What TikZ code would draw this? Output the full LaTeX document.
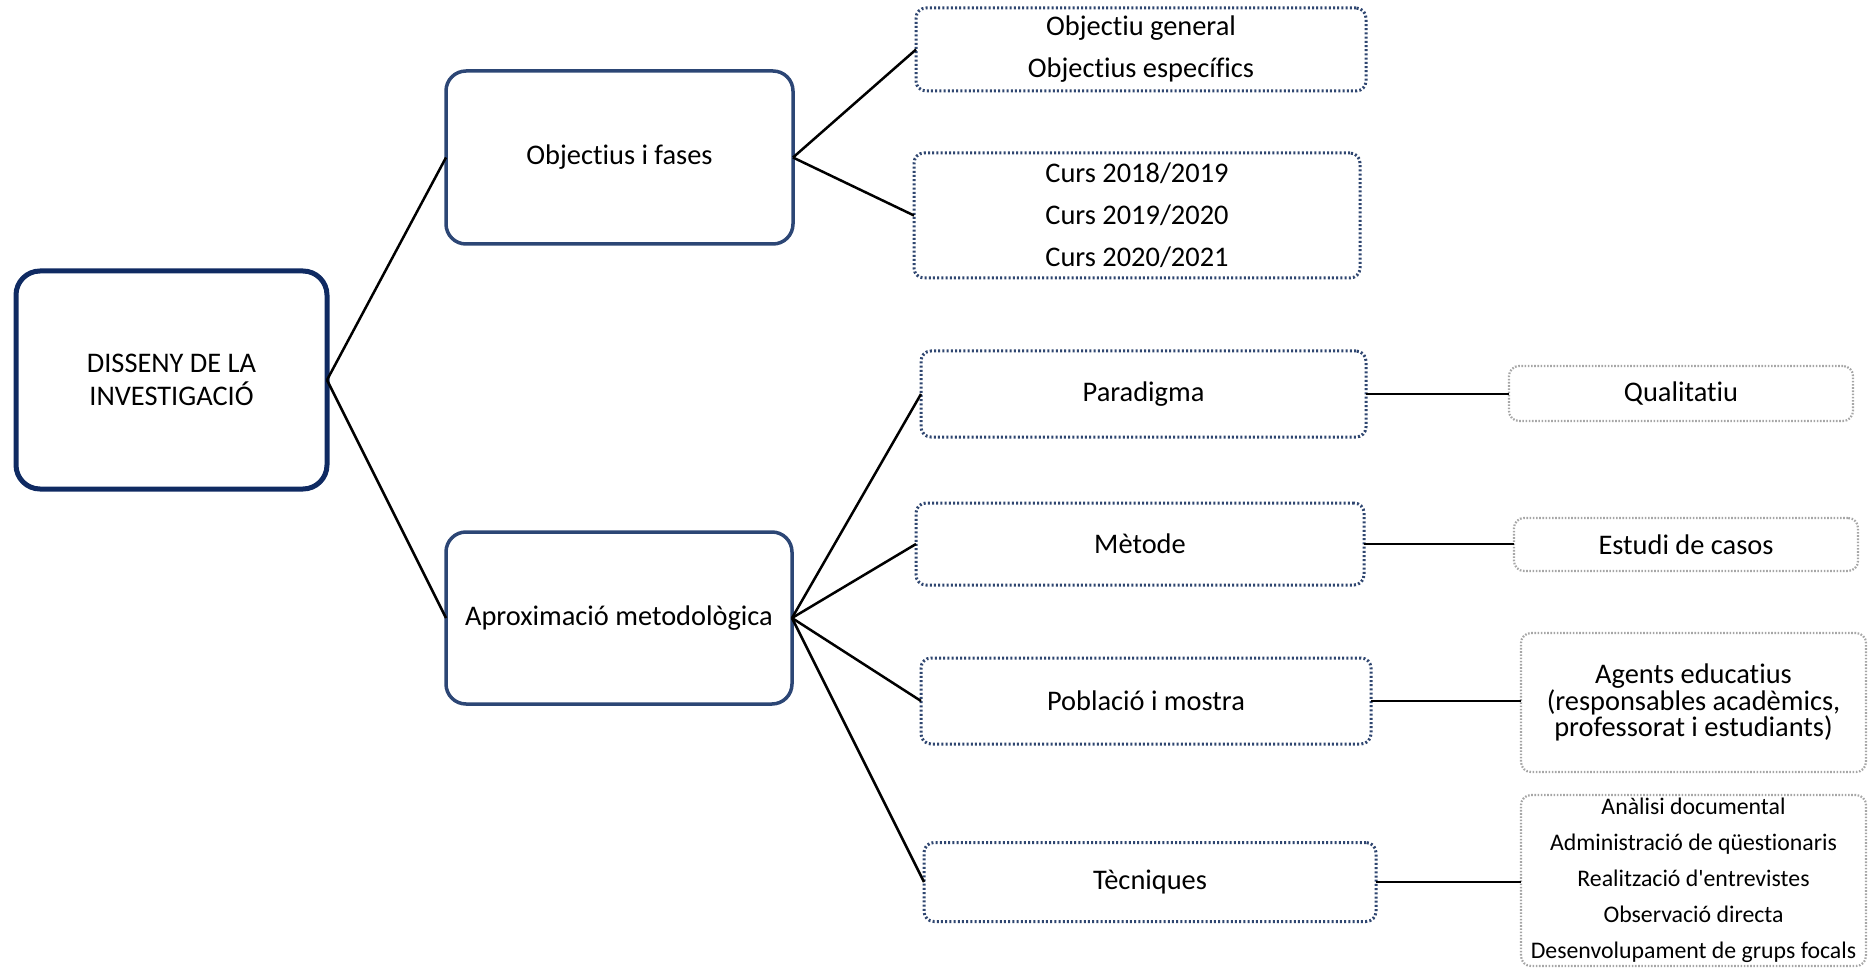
\documentclass[tikz,border=0pt]{standalone}
\usepackage{fontspec}
\setmainfont{Carlito}[Ligatures={TeX,NoCommon,NoContextual}]
\begin{document}
\definecolor{navydark}{HTML}{0F2A62}
\definecolor{navy}{HTML}{2C4675}
\definecolor{dotnavy}{HTML}{2F4670}
\definecolor{dotgray}{HTML}{A6A6A6}
\begin{tikzpicture}[x=1pt,y=-1pt,
  every node/.style={inner sep=0pt, outer sep=0pt, align=center, text=black,
    font=\fontsize{28.4}{33}\selectfont},
  rootbox/.style={draw=navydark, line width=5pt, rounded corners=24pt},
  mainbox/.style={draw=navy, line width=3.5pt, rounded corners=20pt},
  subbox/.style={draw=dotnavy, line width=3pt, dash pattern=on 2pt off 2.2pt, rounded corners=10pt},
  leafbox/.style={draw=dotgray, line width=2.2pt, dash pattern=on 1.6pt off 1.6pt, rounded corners=10pt},
  link/.style={draw=black, line width=2.5pt}
]
\useasboundingbox (0,0) rectangle (1875,968);

% root and first level
\node[rootbox, minimum width=311, minimum height=218] (root) at (171.5,380) {DISSENY DE LA\\INVESTIGACIÓ};
\node[mainbox, minimum width=347, minimum height=173] (obj) at (619.5,157.5) {Objectius i fases};
\node[mainbox, minimum width=346, minimum height=172] (aprox) at (619,618) {Aproximació metodològica};

% second level
\node[subbox, minimum width=450, minimum height=83, font=\fontsize{28.4}{42}\selectfont] (gen) at (1141,49.5) {Objectiu general\\Objectius específics};
\node[subbox, minimum width=446, minimum height=125, font=\fontsize{28.4}{42}\selectfont] (curs) at (1137,215.5) {Curs 2018/2019\\Curs 2019/2020\\Curs 2020/2021};
\node[subbox, minimum width=445, minimum height=86] (parad) at (1143.5,394) {Paradigma};
\node[subbox, minimum width=448, minimum height=82] (metode) at (1140,544) {Mètode};
\node[subbox, minimum width=450, minimum height=86] (pobl) at (1146,701) {Població i mostra};
\node[subbox, minimum width=452, minimum height=79] (tecn) at (1150,882) {Tècniques};

% third level
\node[leafbox, minimum width=344, minimum height=55] (qual) at (1681,393.5) {Qualitatiu};
\node[leafbox, minimum width=344, minimum height=53] (estudi) at (1686,544.5) {Estudi de casos};
\node[leafbox, minimum width=345, minimum height=139, font=\fontsize{28.4}{26.5}\selectfont] (agents) at (1693.5,702.5) {Agents educatius\\(responsables acadèmics,\\professorat i estudiants)};
\node[leafbox, minimum width=345, minimum height=171, font=\fontsize{23.8}{36}\selectfont] (llista) at (1693.5,880.5) {Anàlisi documental\\Administració de qüestionaris\\Realització d\textquotesingle entrevistes\\Observació directa\\Desenvolupament de grups focals};

% connectors
\draw[link] (root.east) -- (obj.west);
\draw[link] (root.east) -- (aprox.west);
\draw[link] (obj.east) -- (gen.west);
\draw[link] (obj.east) -- (curs.west);
\draw[link] (aprox.east) -- (parad.west);
\draw[link] (aprox.east) -- (metode.west);
\draw[link] (aprox.east) -- (pobl.west);
\draw[link] (aprox.east) -- (tecn.west);
\draw[link] (parad.east) -- (parad.east -| qual.west);
\draw[link] (metode.east) -- (metode.east -| estudi.west);
\draw[link] (pobl.east) -- (pobl.east -| agents.west);
\draw[link] (tecn.east) -- (tecn.east -| llista.west);
\end{tikzpicture}
\end{document}
